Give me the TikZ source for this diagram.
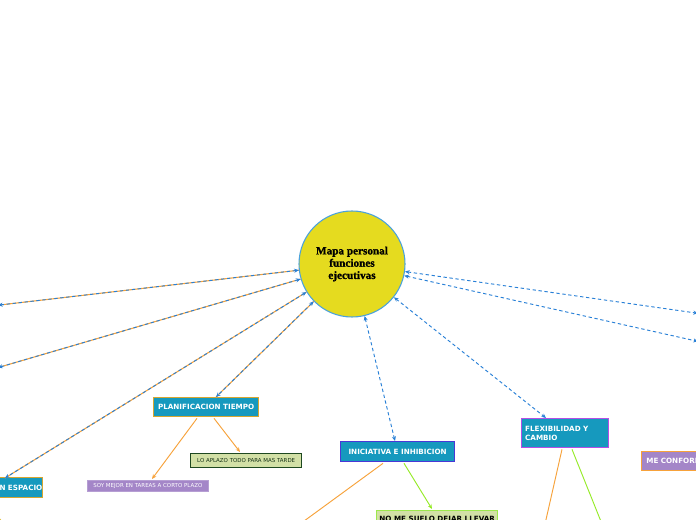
\documentclass[tikz,border=0pt]{standalone}
\usepackage{fontspec}
\setmainfont{DejaVu Sans}
\newfontfamily\titlefont[BoldFeatures={FakeBold=1.2}]{Liberation Serif}
\usetikzlibrary{arrows.meta,calc}
\definecolor{teal}{RGB}{22,153,190}
\definecolor{goldb}{RGB}{214,166,48}
\definecolor{purp}{RGB}{164,134,200}
\definecolor{lgreen}{RGB}{210,224,166}
\definecolor{dgreen}{RGB}{30,72,32}
\definecolor{bgreen}{RGB}{156,232,76}
\definecolor{dblue}{RGB}{40,128,215}
\definecolor{orng}{RGB}{247,162,58}
\definecolor{yel}{RGB}{229,219,31}
\definecolor{cblue}{RGB}{74,162,220}
\definecolor{flexb}{RGB}{180,78,230}
\definecolor{inicb}{RGB}{74,55,214}
\definecolor{lime}{RGB}{150,235,40}
\tikzset{
  mainbox/.style={draw, line width=1pt, fill=teal, text=white, font=\fontsize{5.4pt}{6.5pt}\selectfont\bfseries, inner sep=0pt, anchor=north west},
  subbox/.style={draw, line width=1pt, inner sep=0pt, anchor=north west, font=\fontsize{4.1pt}{4.8pt}\selectfont},
  bline/.style={draw=dblue, line width=0.7pt, dash pattern=on 2.5pt off 2pt},
  oline/.style={draw=orng, line width=0.7pt},
  twotone/.style={draw=orng, line width=0.8pt},
  arr/.style={-{Stealth[length=3.5pt,width=3pt]}},
  barr/.style={{Stealth[length=3.5pt,width=3pt]}-{Stealth[length=3.5pt,width=3pt]}}
}
\begin{document}
\begin{tikzpicture}[x=0.75pt,y=-0.75pt]
\useasboundingbox (0,0) rectangle (696,520);
\clip (0,0) rectangle (696,520);
\fill[white] (0,0) rectangle (696,520);

% central circle
\node[circle, draw=cblue, line width=0.8pt, fill=yel, minimum size=79.5pt, inner sep=0pt,
      align=center, font=\titlefont\fontsize{8.4pt}{9.2pt}\selectfont\bfseries] (c) at (352,264)
      {Mapa personal\\funciones\\ejecutivas};

% boxes
\node[mainbox, draw=goldb, minimum width=78.75pt, minimum height=14.25pt] (plan) at (153,397) {PLANIFICACION TIEMPO};
\node[subbox, draw=dgreen, fill=lgreen, text=dgreen!70!black, minimum width=83.25pt, minimum height=10.5pt] (aplazo) at (190,453) {LO APLAZO TODO PARA MAS TARDE};
\node[subbox, draw=purp!80!white, line width=0.5pt, fill=purp, text=white, minimum width=90.75pt, minimum height=8.25pt] (soy) at (87,480) {SOY MEJOR EN TAREAS A CORTO PLAZO};
\node[mainbox, draw=inicb, minimum width=85.5pt, minimum height=15pt] (inic) at (340,441) {INICIATIVA E INHIBICION};
\node[subbox, draw=bgreen, fill=lgreen, text=black, minimum width=90.75pt, minimum height=15pt,
      font=\fontsize{5.4pt}{6.5pt}\selectfont\bfseries, anchor=north west] (nome) at (376,510) {\raisebox{3pt}{NO ME SUELO DEJAR LLEVAR}};
\node[mainbox, draw=flexb, minimum width=65.25pt, minimum height=21.75pt, align=left, text width=60pt] (flex) at (521,418) {FLEXIBILIDAD Y\\CAMBIO};
\node[mainbox, draw=orng, fill=purp, minimum width=60pt, minimum height=14.25pt, align=left, text width=56pt] (conf) at (641,451) {\hspace{1.5pt}ME CONFORMO};
\node[mainbox, draw=goldb, minimum height=15pt, text width=48pt, align=right, anchor=north east] (esp) at (43,477) {N ESPACIO\hspace{3.5pt}};

% free ends
\coordinate (l1) at (-2,305.2);
\coordinate (l2) at (-2,367.6);
\coordinate (r1) at (698,313.3);
\coordinate (r2) at (698,341.4);
\coordinate (planin) at (216,397);
\coordinate (espin) at (5,478);
\coordinate (inicin) at (395,441);
\coordinate (flexin) at (546,418);
\coordinate (iniout) at (300,524);
\coordinate (flexo1) at (545,524);
\coordinate (flexo2) at (602,524);
\coordinate (espo) at (4,524);

% two-tone connectors
\foreach \t in {planin,espin,l1,l2}{
  \draw[twotone] (c) -- (\t);
  \draw[bline, barr] (c) -- (\t);
}
% blue dashed connectors
\foreach \t in {inicin,flexin,r1,r2}{
  \draw[bline, barr] (c) -- (\t);
}

% orange / green sub connectors
\draw[oline, arr] ($(plan.south west)+(44,1)$) -- ($(soy.north west)+(65,-1)$);
\draw[oline, arr] ($(plan.south west)+(61,1)$) -- ($(aplazo.north west)+(50,-1)$);
\draw[oline] ($(inic.south west)+(43,1)$) -- (iniout);
\draw[draw=lime, line width=0.7pt, arr] ($(inic.south west)+(64,1)$) -- ($(nome.north west)+(56,-1)$);
\draw[oline] ($(flex.south west)+(41,1)$) -- (flexo1);
\draw[draw=lime, line width=0.7pt] ($(flex.south west)+(51,1)$) -- (flexo2);
\draw[draw=goldb!80!yellow, line width=0.7pt] ($(esp.south west)+(5,1)$) -- (espo);
\end{tikzpicture}
\end{document}
